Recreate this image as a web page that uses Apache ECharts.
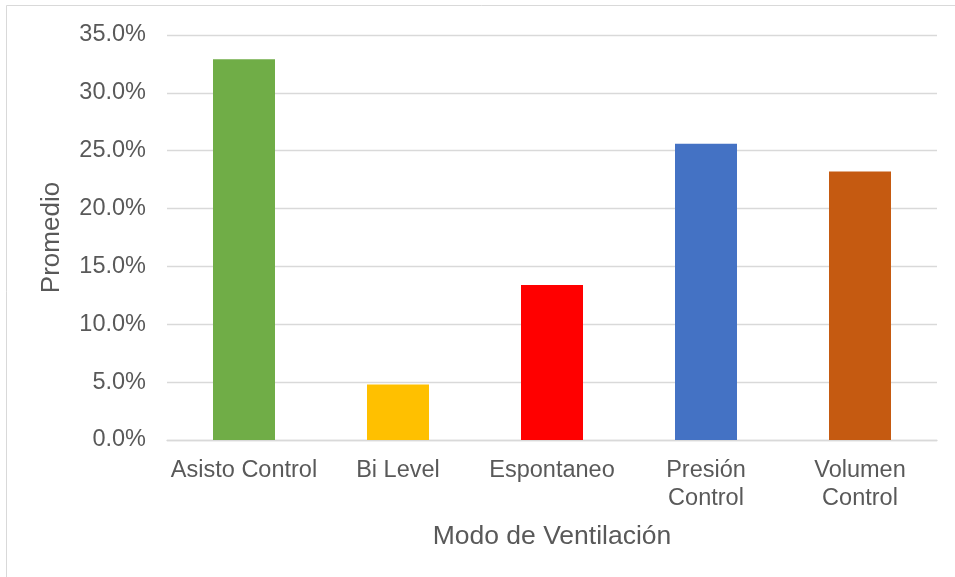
<!DOCTYPE html>
<html>
<head>
<meta charset="utf-8">
<script src="https://cdn.jsdelivr.net/npm/echarts@6/dist/echarts.min.js"></script>
<style>
  html, body { margin: 0; padding: 0; background: #fff; }
  #chart { width: 955px; height: 577px; }
</style>
</head>
<body>
<div id="chart"></div>
<script>
// Ventilation modes and their average share
const categories = ['Asisto Control', 'Bi Level', 'Espontaneo', 'Presión\nControl', 'Volumen\nControl'];
const promedio = [0.329, 0.048, 0.134, 0.256, 0.232];
const barColors = ['#70AD47', '#FFC000', '#FF0000', '#4472C4', '#C55A11'];
const xTitle = 'Modo de Ventilación';
const yTitle = 'Promedio';

const textColor = '#595959';
const fontFamily = '"Liberation Sans", Arial, sans-serif';

const chart = echarts.init(document.getElementById('chart'), null, { renderer: 'canvas' });

chart.setOption({
  backgroundColor: '#ffffff',
  animation: false,
  graphic: [{
    type: 'rect',
    shape: { x: 6.5, y: 5.5, width: 1000, height: 1000 },
    style: { fill: 'none', stroke: '#d9d9d9', lineWidth: 1 },
    silent: true
  }],
  grid: { left: 167, right: 18, top: 35, bottom: 137, containLabel: false },
  xAxis: {
    type: 'category',
    data: categories,
    name: xTitle,
    nameLocation: 'middle',
    nameGap: 83,
    nameTextStyle: { color: textColor, fontSize: 26.5, fontFamily: fontFamily },
    axisLine: { show: true, lineStyle: { color: '#d9d9d9', width: 1.3 } },
    axisTick: { show: false },
    axisLabel: {
      color: textColor, fontSize: 23.5, fontFamily: fontFamily,
      margin: 17, lineHeight: 28, interval: 0
    }
  },
  yAxis: {
    type: 'value',
    min: 0,
    max: 0.35,
    interval: 0.05,
    name: yTitle,
    nameLocation: 'middle',
    nameGap: 102,
    nameTextStyle: { color: textColor, fontSize: 26, fontFamily: fontFamily },
    axisLine: { show: false },
    axisTick: { show: false },
    splitLine: { lineStyle: { color: '#d9d9d9', width: 1.3 } },
    axisLabel: {
      color: textColor, fontSize: 23.5, fontFamily: fontFamily, margin: 21,
      formatter: v => (v * 100).toFixed(1) + '%'
    }
  },
  series: [{
    type: 'bar',
    barWidth: 62,
    data: promedio.map((v, i) => ({ value: v, itemStyle: { color: barColors[i] } }))
  }]
});
</script>
</body>
</html>
